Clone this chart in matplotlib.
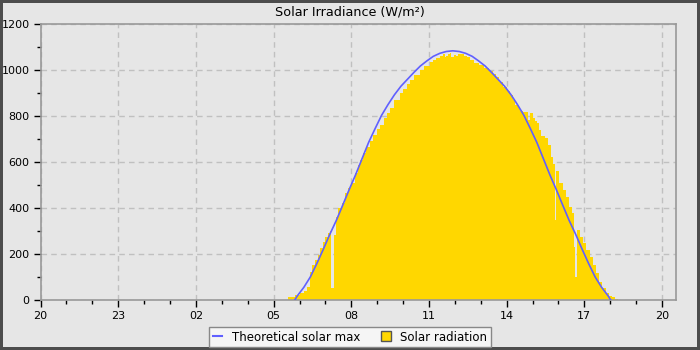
import matplotlib
matplotlib.use("Agg")
import numpy as np
import matplotlib.pyplot as plt
from matplotlib.lines import Line2D
from matplotlib.ticker import MultipleLocator, FixedLocator, FixedFormatter

# theoretical clear-sky maximum (W/m2)
max_times = ["05:49", "05:55", "06:10", "06:25", "06:40", "06:55", "07:10", "07:25",
             "07:40", "07:55", "08:10", "08:25", "08:40", "08:55", "09:10", "09:25",
             "09:40", "09:55", "10:10", "10:25", "10:40", "10:55", "11:10", "11:25",
             "11:40", "11:55", "12:10", "12:25", "12:40", "12:55", "13:10", "13:25",
             "13:40", "13:55", "14:10", "14:25", "14:40", "14:55", "15:10", "15:25",
             "15:40", "15:55", "16:10", "16:25", "16:40", "16:55", "17:10", "17:25",
             "17:40", "17:55", "18:01"]
max_values = [0, 18, 55, 100, 158, 220, 285, 345,
              412, 480, 545, 615, 685, 745, 803, 850,
              893, 930, 960, 990, 1018, 1040, 1060, 1073,
              1081, 1084, 1081, 1073, 1060, 1040, 1018, 990,
              960, 930, 893, 850, 803, 745, 685, 615,
              545, 480, 412, 345, 285, 220, 158, 100,
              55, 18, 0]

# measured solar radiation (W/m2), step values
rad_times = ["05:30", "05:34", "05:50", "06:00", "06:10", "06:18", "06:24", "06:30",
             "06:36", "06:42", "06:48", "06:54", "07:00", "07:06", "07:10", "07:12",
             "07:20", "07:25", "07:30", "07:38", "07:45", "07:52", "08:00", "08:08",
             "08:15", "08:20", "08:28", "08:35", "08:43", "08:51", "09:00", "09:06",
             "09:15", "09:22", "09:29", "09:40", "09:52", "10:00", "10:08", "10:15",
             "10:25", "10:38", "10:48", "11:02", "11:10", "11:17", "11:25", "11:32",
             "11:36", "11:40", "11:44", "11:48", "11:52", "11:58", "12:03", "12:08",
             "12:15", "12:22", "12:27", "12:34", "12:45", "12:57", "13:08", "13:20",
             "13:28", "13:36", "13:43", "13:52", "14:00", "14:07", "14:14", "14:20",
             "14:26", "14:32", "14:37", "14:48", "14:50", "14:55", "15:00", "15:05",
             "15:10", "15:16", "15:20", "15:28", "15:35", "15:43", "15:48", "15:52",
             "15:55", "16:02", "16:10", "16:17", "16:25", "16:31", "16:35", "16:38",
             "16:42", "16:49", "16:56", "17:04", "17:12", "17:19", "17:27", "17:35",
             "17:42", "17:50", "17:58", "18:05", "18:10", "18:18"]
rad_values = [0, 12, 22, 29, 40, 55, 123, 150,
              172, 195, 228, 250, 272, 292, 302, 51,
              283, 360, 398, 421, 464, 485, 510, 551,
              585, 609, 640, 667, 690, 717, 745, 761,
              790, 812, 835, 870, 900, 920, 940, 955,
              978, 1000, 1018, 1036, 1045, 1051, 1060, 1072,
              1058, 1061, 1070, 1075, 1058, 1065, 1062, 1068,
              1070, 1062, 1058, 1043, 1033, 1022, 1008, 997,
              985, 971, 949, 925, 908, 891, 868, 850,
              840, 822, 819, 819, 783, 812, 790, 780,
              768, 740, 715, 705, 675, 620, 590, 350,
              560, 507, 478, 449, 406, 377, 230, 100,
              304, 275, 246, 217, 188, 152, 116, 80,
              51, 29, 17, 12, 6, 0]

tick_labels = ["20", "23", "02", "05", "08", "11", "14", "17", "20"]


def to_hours(t):
    # hours since 20:00 the evening before
    hh, mm = t.split(":")
    h = int(hh) + int(mm) / 60
    return h - 20 if h >= 20 else h + 4


def main():
    bg = "#e6e6e6"
    fig = plt.figure(figsize=(7, 3.5), dpi=100, facecolor=bg,
                     edgecolor="#4d4d4d", linewidth=4)
    ax = fig.add_axes([0.058, 0.143, 0.907, 0.788], facecolor=bg)

    rx = np.array([to_hours(t) for t in rad_times])
    ry = np.array(rad_values)
    mx = np.array([to_hours(t) for t in max_times])
    my = np.array(max_values)

    ax.fill_between(rx, ry, step="post", color="#ffd700", lw=0, zorder=2)
    ax.plot(mx, my, color="#6060ff", lw=1.2, zorder=3)

    ax.set_xlim(0, 24.52)
    ax.set_ylim(0, 1200)
    ax.xaxis.set_major_locator(FixedLocator(np.arange(0, 25, 3)))
    ax.xaxis.set_major_formatter(FixedFormatter(tick_labels))
    ax.xaxis.set_minor_locator(MultipleLocator(1))
    ax.yaxis.set_major_locator(MultipleLocator(200))
    ax.yaxis.set_minor_locator(MultipleLocator(100))

    ax.grid(True, which="major", color="#c0c0c0", linestyle=(0, (4, 3)), lw=1, zorder=1)
    ax.set_axisbelow(True)
    for s in ax.spines.values():
        s.set_color("#999999")
        s.set_linewidth(1.2)
    ax.tick_params(which="major", length=5, width=1, color="black",
                   labelsize=8, pad=3)
    ax.tick_params(which="minor", length=3, width=1, color="black")

    fig.text(0.5, 0.965, "Solar Irradiance (W/m\u00b2)", ha="center", va="center",
             fontsize=9.2, color="black")

    handles = [
        Line2D([], [], color="#6060ff", lw=1.5),
        Line2D([], [], marker="s", linestyle="none", markersize=7,
               markerfacecolor="#ffd700", markeredgecolor="#555555"),
    ]
    leg = fig.legend(handles, ["Theoretical solar max", "Solar radiation"],
                     loc="center", bbox_to_anchor=(0.5, 0.037), ncol=2,
                     fontsize=8.5, frameon=True, fancybox=False,
                     edgecolor="#888888", facecolor="#f5f5f5", framealpha=1,
                     handlelength=0.8, handletextpad=0.8, columnspacing=1.8,
                     borderpad=0.3)
    leg.get_frame().set_linewidth(1)

    fig.savefig("out.png", dpi=100, facecolor=bg, edgecolor="#4d4d4d")


if __name__ == "__main__":
    main()
